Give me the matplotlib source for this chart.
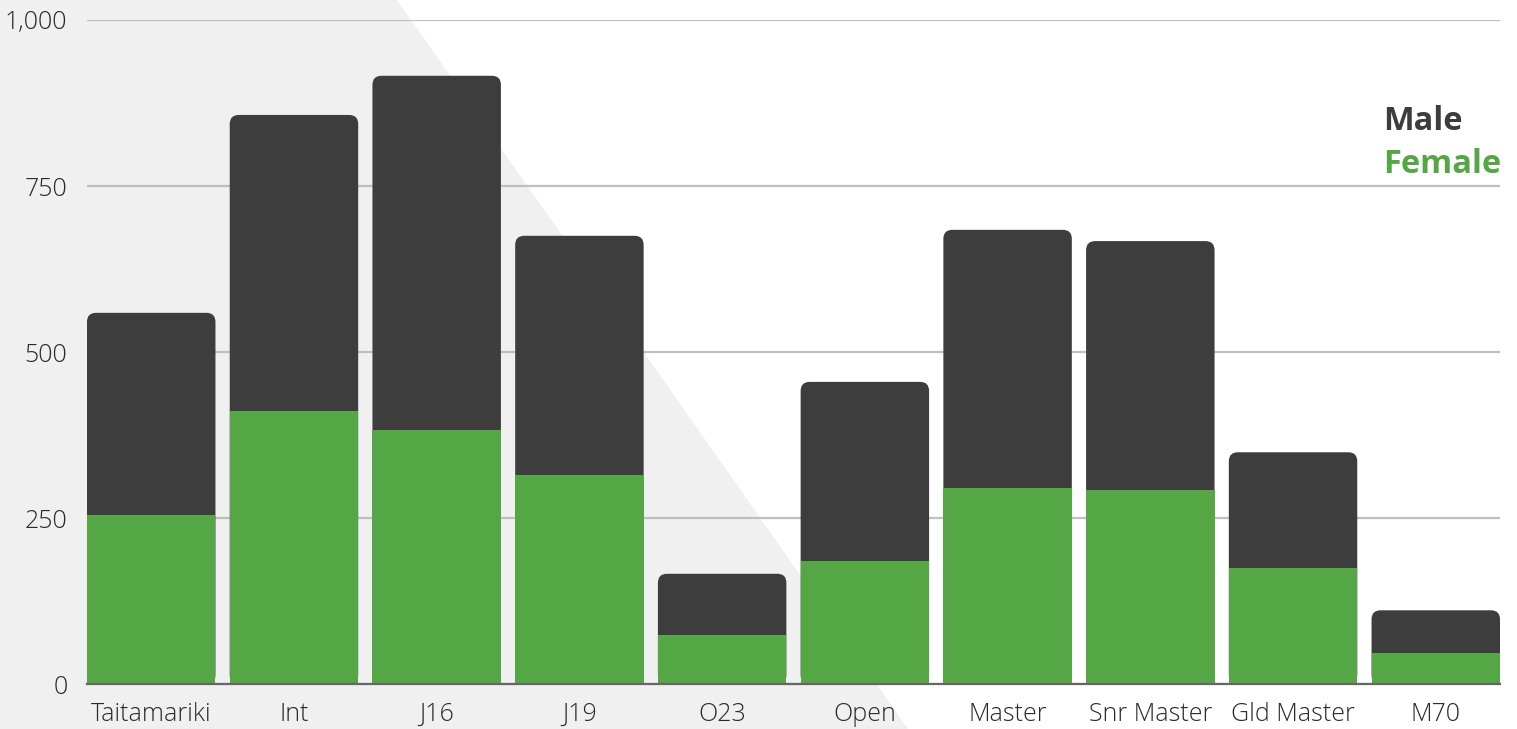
import matplotlib
matplotlib.use('Agg')
import matplotlib.pyplot as plt
from matplotlib.patches import Polygon, FancyBboxPatch
import numpy as np

categories = ['Taitamariki', 'Int', 'J16', 'J19', 'O23', 'Open',
              'Master', 'Snr Master', 'Gld Master', 'M70']
female = [255, 411, 382, 315, 74, 185, 295, 292, 175, 47]
male = [304, 446, 534, 360, 92, 270, 389, 375, 174, 64]
yticks = [0, 250, 500, 750, 1000]
ytick_labels = ['0', '250', '500', '750', '1,000']

GREEN = '#55a746'
DARK = '#3d3d3d'

plt.rcParams['font.family'] = ['Open Sans', 'DejaVu Sans']

W, H = 1517, 729
fig = plt.figure(figsize=(W / 100, H / 100), dpi=100)
fig.patch.set_facecolor('white')

# light grey slanted background on the left
fig.patches.append(Polygon([(0, 1), (397 / W, 1), (908 / W, 0), (0, 0)],
                           closed=True, transform=fig.transFigure,
                           facecolor='#f0f0f0', edgecolor='none', zorder=-1))

ax = fig.add_axes([87 / W, 45 / H, (1500 - 87) / W, (684 - 20) / H])
ax.set_facecolor('none')
ax.set_zorder(1)

x = np.arange(len(categories))
totals = np.array(female) + np.array(male)
bw = 0.9
ax.set_xlim(-0.45, len(categories) - 0.55)
ax.set_ylim(0, 1000)

# rounded-top totals (male), then female drawn over the bottom
r_px = 9
ax_w_px = 1500 - 87
ax_h_px = 684 - 20
rx = r_px * (len(categories) - 0.1) / ax_w_px
ry = r_px * 1000 / ax_h_px
bars = ax.bar(x, totals, width=bw, color=DARK, zorder=2)
for b in bars:
    b.set_visible(False)
    p = FancyBboxPatch((b.get_x(), 0), b.get_width(), b.get_height(),
                       boxstyle=f'round,pad=0,rounding_size={rx}',
                       mutation_aspect=ry / rx,
                       facecolor=DARK, edgecolor='none', zorder=2)
    ax.add_patch(p)
ax.bar(x, female, width=bw, color=GREEN, zorder=3)

ax.set_yticks(yticks)
ax.set_yticklabels(ytick_labels)
ax.set_xticks(x)
ax.set_xticklabels(categories)
ax.grid(axis='y', color='#bfbfbf', linewidth=1.6, zorder=1)
ax.set_axisbelow(True)
for s in ['top', 'right', 'left']:
    ax.spines[s].set_visible(False)
ax.spines['bottom'].set_color('#666666')
ax.spines['bottom'].set_linewidth(1.6)
ax.spines['bottom'].set_zorder(4)
ax.tick_params(axis='both', length=0, labelsize=18, labelcolor='#2a2a2a')
ax.tick_params(axis='y', pad=14)
ax.tick_params(axis='x', pad=13)
for lbl in ax.get_xticklabels() + ax.get_yticklabels():
    lbl.set_fontweight('light')

lx = (1383 - 87) / ax_w_px
ax.text(lx, 0.847, 'Male', transform=ax.transAxes, ha='left', va='center',
        fontsize=23.5, fontweight='bold', color=DARK)
ax.text(lx, 0.782, 'Female', transform=ax.transAxes, ha='left', va='center',
        fontsize=23.5, fontweight='bold', color=GREEN)

fig.savefig('out.png', dpi=100, facecolor=fig.get_facecolor())
